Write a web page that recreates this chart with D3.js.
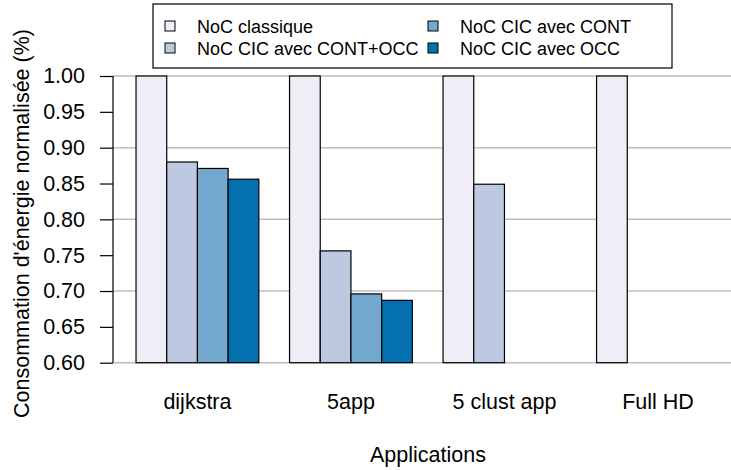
<!DOCTYPE html>
<html><head><meta charset="utf-8">
<script src="https://cdn.jsdelivr.net/npm/d3@7"></script>
<style>body{margin:0;background:#fff}svg{display:block}text{font-family:"Liberation Sans",Arial,sans-serif;fill:#000}</style>
</head><body><svg id="c" width="731" height="470"></svg>
<script>
const categories = ["dijkstra", "5app", "5 clust app", "Full HD"];
const seriesNames = ["NoC classique", "NoC CIC avec CONT+OCC", "NoC CIC avec CONT", "NoC CIC avec OCC"];
const seriesColors = ["#EFEDF5", "#BDC9E1", "#74A9CF", "#0570B0"];
const classique = [1.0, 1.0, 1.0, 1.0];
const contOcc = [0.880, 0.756, 0.849, null];
const cont = [0.871, 0.696, null, null];
const occ = [0.856, 0.687, null, null];
const yTicks = [0.60, 0.65, 0.70, 0.75, 0.80, 0.85, 0.90, 0.95, 1.00];
const gridTicks = [0.6, 0.7, 0.8, 0.9, 1.0];

const series = [classique, contOcc, cont, occ];
const svg = d3.select("#c");
const fs = 21.5;

const x0 = d3.scaleBand().domain(categories).range([113, 742.4]).paddingInner(0.2).paddingOuter(0.15);
const x1 = d3.scaleBand().domain(d3.range(series.length)).range([0, x0.bandwidth()]);
const y = d3.scaleLinear().domain([0.6, 1.0]).range([362.7, 76]);

// gridlines
svg.append("g").selectAll("line").data(gridTicks).join("line")
  .attr("x1", 113).attr("x2", 731)
  .attr("y1", d => y(d)).attr("y2", d => y(d))
  .attr("stroke", "#bebebe").attr("stroke-width", 1.5);

// bars
const groups = svg.append("g").selectAll("g").data(categories).join("g")
  .attr("transform", d => `translate(${x0(d)},0)`);
groups.selectAll("rect")
  .data((c, ci) => series.map((s, si) => ({si, v: s[ci]})).filter(d => d.v != null))
  .join("rect")
  .attr("x", d => x1(d.si)).attr("width", x1.bandwidth())
  .attr("y", d => y(d.v)).attr("height", d => y(0.6) - y(d.v))
  .attr("fill", d => seriesColors[d.si]).attr("stroke", "#000").attr("stroke-width", 1.2);

// y axis
const yAxis = d3.axisLeft(y).tickValues(yTicks).tickFormat(d3.format(".2f")).tickSize(13).tickPadding(15);
const ya = svg.append("g").attr("transform", "translate(113,0)").call(yAxis);
ya.select(".domain").attr("stroke", "#000").attr("stroke-width", 1.2).attr("d", `M0,${y(0.6)}V${y(1.0)}`);
ya.selectAll(".tick line").attr("stroke", "#000").attr("stroke-width", 1.2);
ya.selectAll(".tick text").attr("font-size", fs).attr("font-family", "Liberation Sans, Arial, sans-serif").attr("fill", "#000");

// x labels
const xAxis = d3.axisBottom(x0).tickSize(0).tickPadding(0);
const xa = svg.append("g").attr("transform", "translate(0,409)").call(xAxis);
xa.select(".domain").remove();
xa.selectAll(".tick text").attr("font-size", fs).attr("font-family", "Liberation Sans, Arial, sans-serif").attr("fill", "#000")
  .attr("y", 0).attr("dy", 0);

// axis titles
svg.append("text").attr("x", 428).attr("y", 462).attr("text-anchor", "middle").attr("font-size", fs).text("Applications");
svg.append("text").attr("transform", "translate(28.5,223.5) rotate(-90)").attr("text-anchor", "middle").attr("font-size", fs)
  .text("Consommation d'énergie normalisée (%)");

// legend
const lg = svg.append("g");
lg.append("rect").attr("x", 153).attr("y", 4).attr("width", 519).attr("height", 64)
  .attr("fill", "#fff").attr("stroke", "#000").attr("stroke-width", 1.2);
const lpos = [[165, 26], [165, 48], [428, 26], [428, 48]];
seriesNames.forEach((n, i) => {
  const [lx, ly] = lpos[i];
  lg.append("rect").attr("x", lx).attr("y", ly - 5).attr("width", 10).attr("height", 10)
    .attr("fill", seriesColors[i]).attr("stroke", "#000").attr("stroke-width", 1);
  lg.append("text").attr("x", lx + 32).attr("y", ly + 6.5).attr("font-size", 18).text(n);
});
</script></body></html>
